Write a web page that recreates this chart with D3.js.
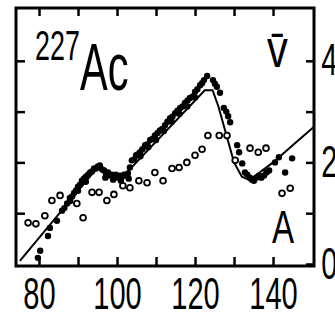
<!DOCTYPE html>
<html lang="en">
<head>
<meta charset="UTF-8">
<script src="https://cdn.jsdelivr.net/npm/d3@7/dist/d3.min.js"></script>
<title>227Ac</title>
<style>
    body { margin: 0; background: white; }
    text { font-family: "Liberation Sans", Arial, sans-serif; fill: black; }
</style>
</head>
<body>
<div id="chart"></div>
<script>

    // axis ticks
    var xTicks = [80, 90, 100, 110, 120, 130, 140];
    var xLabels = [80, 100, 120, 140];
    var yTicks = [1, 2, 3, 4];
    var yLabels = [0, 2, 4];

    // calculated curve (solid line)
    var calcA  = [75.1, 95.0, 97.0, 101.0, 122.5, 124.5, 126.0, 130.0, 132.0, 134.0, 140.0, 146.0, 150.5];
    var calcNu = [0.06, 1.90, 1.80, 1.68, 3.42, 3.42, 3.10, 2.00, 1.72, 1.65, 2.00, 2.40, 2.70];

    // filled points
    var fullA  = [79.7, 80.3, 82.3, 82.8, 84.6, 85.9, 86.5, 87.2, 87.9, 88.5, 89.0, 89.5, 90.0, 90.5, 91.0,
                  91.5, 92.0, 92.6, 93.1, 93.6, 94.1, 94.6, 95.1, 95.6, 96.2, 96.7, 97.2, 97.7, 98.2, 98.7,
                  99.2, 99.7, 100.3, 100.8, 101.3, 101.8, 102.3, 102.8, 103.3, 103.8, 104.4, 104.9, 105.4,
                  105.9, 106.5, 107.2, 107.8, 108.5, 109.1, 109.7, 110.4, 111.0, 111.6, 112.3, 112.9, 113.6,
                  114.2, 114.9, 115.5, 116.2, 116.8, 117.4, 118.1, 118.7, 119.4, 120.0, 120.6, 121.3, 121.8,
                  122.3, 123.1, 124.6, 125.1, 125.6, 126.4, 127.4, 128.0, 128.5, 129.0, 130.8, 131.3, 132.1,
                  132.8, 133.4, 134.1, 134.6, 135.1, 135.7, 136.4, 137.0, 137.7, 138.3, 139.0, 140.5, 141.5,
                  143.1, 144.9,
                  88.0, 90.0, 92.0, 97.0, 99.0, 101.0, 103.0, 106.0, 108.0, 110.0, 112.0, 114.0, 116.0, 118.0, 120.0];
    var fullNu = [0.12, 0.26, 0.55, 0.71, 0.85, 1.05, 1.10, 1.19, 1.30, 1.33, 1.40, 1.45, 1.52, 1.56, 1.64,
                  1.68, 1.72, 1.76, 1.80, 1.82, 1.88, 1.88, 1.92, 1.94, 1.86, 1.84, 1.78, 1.80, 1.74, 1.76,
                  1.72, 1.76, 1.70, 1.74, 1.72, 1.76, 1.74, 1.78, 1.90, 2.04, 2.06, 2.14, 2.16,
                  2.20, 2.26, 2.34, 2.36, 2.44, 2.46, 2.53, 2.58, 2.63, 2.66, 2.73, 2.80, 2.87,
                  2.90, 2.97, 3.02, 3.07, 3.10, 3.17, 3.22, 3.27, 3.30, 3.39, 3.44, 3.52, 3.56,
                  3.62, 3.70, 3.62, 3.55, 3.49, 3.37, 3.07, 3.00, 2.91, 2.79, 2.34, 2.20, 1.98,
                  1.80, 1.76, 1.70, 1.66, 1.64, 1.70, 1.74, 1.70, 1.74, 1.80, 1.84, 2.00, 2.10,
                  1.80, 2.08,
                  1.24, 1.44, 1.62, 1.70, 1.66, 1.64, 1.68, 2.12, 2.30, 2.44, 2.62, 2.80, 2.96, 3.10, 3.28];

    // open points
    var openA  = [77.2, 79.2, 81.5, 83.3, 85.4, 89.7, 91.3, 93.6, 95.4, 97.4, 99.2, 101.5, 103.3, 105.6, 107.7,
                  109.7, 111.8, 114.1, 115.9, 117.9, 120.0, 121.8, 123.3, 126.2, 128.2, 130.3, 134.1, 136.2,
                  138.2, 142.3, 144.4];
    var openNu = [0.81, 0.79, 0.95, 1.25, 1.35, 1.19, 0.91, 1.41, 1.41, 1.25, 1.37, 1.54, 1.50, 1.64, 1.60,
                  1.80, 1.64, 1.88, 1.90, 2.00, 2.14, 2.26, 2.53, 2.53, 2.53, 2.04, 2.28, 2.20,
                  2.28, 1.39, 1.49];

    var W = 335, H = 322;
    var pLeft = 16, pRight = 314, pTop = 8, pBottom = 266;

    var svg = d3.select("#chart").append("svg")
        .attr("width", W)
        .attr("height", H);

    var x = d3.scaleLinear().domain([74.1, 150.5]).range([pLeft, pRight]);
    var y = d3.scaleLinear().domain([-0.04, 5.04]).range([pBottom, pTop]);

    // frame
    svg.append("rect")
        .attr("x", pLeft).attr("y", pTop)
        .attr("width", pRight - pLeft).attr("height", pBottom - pTop)
        .attr("fill", "none").attr("stroke", "black").attr("stroke-width", 3);

    // bottom axis, ticks inward
    var xAxis = svg.append("g")
        .attr("transform", "translate(0," + pBottom + ")")
        .call(d3.axisBottom(x).tickValues(xTicks).tickSizeInner(-9).tickSizeOuter(0).tickPadding(12)
            .tickFormat(function(d) { return xLabels.indexOf(d) >= 0 ? d : ""; }));
    xAxis.select(".domain").remove();
    xAxis.selectAll("line").attr("stroke-width", 2.5);
    xAxis.selectAll("text")
        .attr("font-size", 44)
        .attr("font-family", "Liberation Sans")
        .attr("fill", "black")
        .attr("transform", "scale(0.66,1)");

    // top axis
    var xTop = svg.append("g")
        .attr("transform", "translate(0," + pTop + ")")
        .call(d3.axisTop(x).tickValues(xTicks).tickSizeInner(-8).tickSizeOuter(0).tickFormat(""));
    xTop.select(".domain").remove();
    xTop.selectAll("line").attr("stroke-width", 2.5);

    // left axis
    var yLeft = svg.append("g")
        .attr("transform", "translate(" + pLeft + ",0)")
        .call(d3.axisLeft(y).tickValues(yTicks).tickSizeInner(-9).tickSizeOuter(0).tickFormat(""));
    yLeft.select(".domain").remove();
    yLeft.selectAll("line").attr("stroke-width", 2.5);

    // right axis
    var yRight = svg.append("g")
        .attr("transform", "translate(" + pRight + ",0)")
        .call(d3.axisRight(y).tickValues([0].concat(yTicks)).tickSizeInner(-8).tickSizeOuter(0).tickPadding(11)
            .tickFormat(function(d) { return yLabels.indexOf(d) >= 0 ? d : ""; }));
    yRight.select(".domain").remove();
    yRight.selectAll("line").attr("stroke-width", 2.5);
    yRight.selectAll("text")
        .attr("font-size", 44)
        .attr("font-family", "Liberation Sans")
        .attr("fill", "black")
        .attr("transform", "scale(0.66,1)");

    // calculated line
    var line = d3.line()
        .x(function(d) { return x(d[0]); })
        .y(function(d) { return y(d[1]); });

    svg.append("path")
        .datum(d3.zip(calcA, calcNu))
        .attr("d", line)
        .attr("fill", "none")
        .attr("stroke", "black")
        .attr("stroke-width", 2);

    // open circles
    svg.selectAll(".open")
        .data(d3.zip(openA, openNu))
        .enter().append("circle")
        .attr("class", "open")
        .attr("cx", function(d) { return x(d[0]); })
        .attr("cy", function(d) { return y(d[1]); })
        .attr("r", 2.9)
        .attr("fill", "white")
        .attr("stroke", "black")
        .attr("stroke-width", 1.8);

    // filled dots
    svg.selectAll(".full")
        .data(d3.zip(fullA, fullNu))
        .enter().append("circle")
        .attr("class", "full")
        .attr("cx", function(d) { return x(d[0]); })
        .attr("cy", function(d) { return y(d[1]); })
        .attr("r", 3.2)
        .attr("fill", "black");

    // labels
    svg.append("text")
        .attr("transform", "translate(35,60) scale(0.64,1)")
        .attr("font-size", 42)
        .text("227");

    svg.append("text")
        .attr("transform", "translate(80,90) scale(0.62,1)")
        .attr("font-size", 67)
        .text("Ac");

    svg.append("text")
        .attr("transform", "translate(267,67) scale(0.8,1)")
        .attr("font-size", 52)
        .text("v\u0304");

    svg.append("text")
        .attr("transform", "translate(272,243) scale(0.72,1)")
        .attr("font-size", 46)
        .text("A");

</script>
</body>
</html>
